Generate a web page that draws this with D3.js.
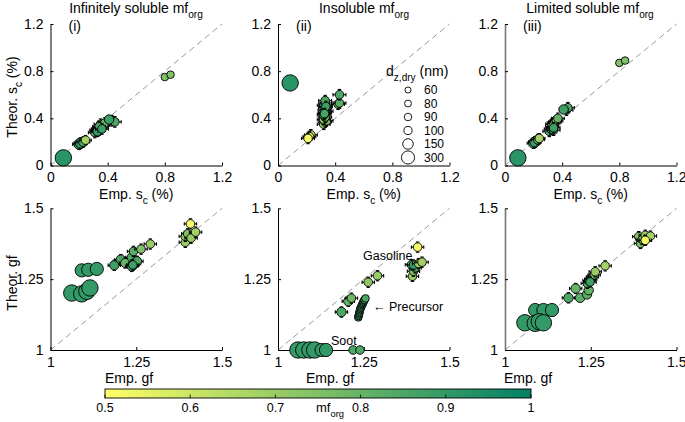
<!DOCTYPE html>
<html><head><meta charset="utf-8">
<script src="https://cdn.jsdelivr.net/npm/d3@7"></script>
<style>body{margin:0;background:#fff} text{font-family:"Liberation Sans",Arial,Helvetica,sans-serif;fill:#000}</style>
</head><body>
<svg id="chart" width="685" height="422"></svg>
<script>
// ---------- DATA ----------
// each point: [emp, theor, mf_org, d_z,dry (nm), errorbar half-width]
const titles = ["Infinitely soluble mf", "Insoluble mf", "Limited soluble mf"];
const panelTags = ["(i)", "(ii)", "(iii)"];
const scTicks = [0, 0.4, 0.8, 1.2];
const gfTicks = [1, 1.25, 1.5];
const gfTickLabels = ["1", "1.25", "1.5"];
const legendDiameters = [60, 80, 90, 100, 150, 300];
const cbTicks = [0.5, 0.6, 0.7, 0.8, 0.9, 1];

const sc_inf = [
  [0.09,0.065,0.92,300,0],
  [0.20,0.18,0.88,100,0.045],[0.21,0.19,0.90,100,0.045],[0.23,0.20,0.85,90,0.045],[0.245,0.215,0.68,80,0.04],
  [0.31,0.28,0.85,80,0.045],[0.32,0.30,0.80,80,0.045],[0.33,0.31,0.85,80,0.045],[0.34,0.30,0.88,80,0.045],
  [0.35,0.32,0.80,80,0.045],[0.36,0.33,0.85,80,0.045],[0.37,0.34,0.82,80,0.045],[0.33,0.29,0.90,90,0.045],
  [0.35,0.35,0.78,80,0.045],[0.38,0.36,0.80,80,0.045],[0.34,0.33,0.85,80,0.045],[0.36,0.31,0.88,80,0.045],
  [0.43,0.38,0.80,80,0.045],[0.45,0.37,0.85,80,0.045],[0.41,0.39,0.88,90,0.03],
  [0.80,0.75,0.75,60,0],[0.84,0.77,0.75,60,0]
];
const sc_ins = [
  [0.085,0.70,0.92,300,0],
  [0.23,0.26,0.62,80,0.045],[0.22,0.245,0.56,80,0.045],[0.21,0.23,0.52,80,0.045],
  [0.32,0.35,0.70,80,0.045],[0.33,0.37,0.68,80,0.045],[0.34,0.38,0.75,80,0.045],[0.32,0.39,0.72,80,0.045],
  [0.33,0.41,0.80,80,0.045],[0.32,0.43,0.85,80,0.045],[0.34,0.46,0.85,80,0.045],[0.33,0.45,0.88,80,0.045],
  [0.325,0.47,0.85,80,0.045],[0.33,0.49,0.88,80,0.045],[0.32,0.51,0.90,80,0.045],[0.33,0.53,0.88,80,0.045],
  [0.33,0.55,0.85,80,0.045],[0.335,0.50,0.88,80,0.045],[0.325,0.44,0.86,80,0.045],
  [0.42,0.52,0.80,80,0.045],[0.43,0.53,0.82,80,0.045],[0.43,0.60,0.85,80,0.045]
];
const sc_lim = [
  [0.09,0.065,0.92,300,0],
  [0.20,0.19,0.90,100,0.045],[0.21,0.20,0.88,100,0.045],[0.23,0.22,0.85,90,0.045],[0.24,0.23,0.68,80,0.04],
  [0.31,0.29,0.85,80,0.045],[0.32,0.31,0.88,80,0.045],[0.33,0.33,0.80,80,0.045],[0.34,0.30,0.90,80,0.045],
  [0.33,0.35,0.75,80,0.045],[0.34,0.36,0.65,80,0.045],[0.35,0.37,0.70,80,0.045],[0.36,0.38,0.72,80,0.045],
  [0.37,0.40,0.80,80,0.045],[0.34,0.32,0.88,80,0.045],
  [0.43,0.47,0.78,80,0.045],[0.44,0.49,0.85,80,0.045],[0.41,0.475,0.88,90,0.03],
  [0.80,0.87,0.75,60,0],[0.84,0.89,0.75,60,0]
];
const gf_inf = [
  [1.091,1.281,0.90,150,0],[1.11,1.283,0.90,150,0],[1.135,1.286,0.90,150,0],
  [1.062,1.201,0.90,300,0],[1.091,1.198,0.90,300,0],[1.106,1.207,0.90,300,0],[1.115,1.219,0.90,300,0],
  [1.186,1.299,0.88,90,0.018],[1.205,1.319,0.85,90,0.018],[1.218,1.307,0.80,90,0.018],[1.237,1.327,0.85,90,0.018],
  [1.242,1.348,0.82,80,0.018],[1.237,1.295,0.90,90,0.018],[1.245,1.305,0.88,90,0.018],[1.252,1.313,0.85,90,0.018],
  [1.24,1.30,0.88,80,0.018],
  [1.264,1.356,0.75,80,0.018],[1.291,1.374,0.70,80,0.018],
  [1.393,1.38,0.70,80,0.018],[1.393,1.401,0.72,80,0.018],[1.40,1.41,0.75,80,0.018],[1.41,1.395,0.70,80,0.018],
  [1.423,1.416,0.68,80,0.018],[1.408,1.445,0.52,80,0.018]
];
const gf_ins = [
  [1.058,1.0,0.90,300,0],[1.075,1.0,0.90,300,0],[1.093,1.0,0.90,300,0],[1.107,1.0,0.90,300,0],
  [1.127,1.0,0.90,150,0],[1.14,1.0,0.90,150,0],
  [1.219,1.0,0.85,80,0],[1.239,1.0,0.85,80,0],
  [1.185,1.134,0.85,90,0.018],[1.205,1.172,0.80,90,0.018],[1.214,1.183,0.78,80,0.018],
  [1.263,1.239,0.72,80,0.018],[1.29,1.262,0.70,80,0.018],
  [1.234,1.115,0.88,60,0],[1.235,1.120,0.86,60,0],[1.236,1.125,0.88,60,0],[1.237,1.130,0.86,60,0],
  [1.238,1.135,0.86,60,0],[1.239,1.140,0.88,60,0],[1.240,1.145,0.88,60,0],[1.241,1.149,0.86,60,0],
  [1.243,1.153,0.86,60,0],[1.245,1.158,0.86,60,0],[1.246,1.162,0.88,60,0],[1.248,1.166,0.86,60,0],
  [1.249,1.170,0.86,60,0],[1.251,1.174,0.85,60,0],[1.252,1.177,0.85,60,0],[1.255,1.182,0.85,60,0],
  [1.392,1.26,0.70,80,0.018],[1.395,1.278,0.75,80,0.018],[1.40,1.29,0.85,80,0.018],[1.389,1.301,0.80,80,0.018],
  [1.395,1.30,0.90,80,0.018],[1.41,1.305,0.70,80,0.018],[1.42,1.31,0.68,80,0.018],[1.407,1.363,0.52,80,0.018]
];
const gf_lim = [
  [1.088,1.141,0.90,150,0],[1.112,1.141,0.90,150,0],[1.137,1.141,0.90,150,0],
  [1.058,1.096,0.90,300,0],[1.088,1.094,0.90,300,0],[1.10,1.10,0.90,300,0],[1.112,1.096,0.90,300,0],
  [1.185,1.184,0.85,90,0.018],[1.206,1.217,0.80,90,0.018],[1.219,1.184,0.82,90,0],[1.239,1.196,0.82,90,0],[1.244,1.211,0.80,90,0],
  [1.24,1.235,0.85,80,0.018],[1.245,1.245,0.88,80,0.018],[1.25,1.25,0.85,80,0.018],[1.255,1.258,0.82,80,0.018],
  [1.26,1.265,0.80,80,0.018],[1.248,1.24,0.88,80,0.018],[1.263,1.276,0.70,80,0.018],[1.292,1.297,0.68,80,0.018],
  [1.395,1.376,0.75,80,0.018],[1.39,1.40,0.72,80,0.018],[1.40,1.39,0.80,80,0.018],[1.409,1.405,0.70,80,0.018],
  [1.424,1.402,0.68,80,0.018],[1.409,1.387,0.52,80,0.018]
];
const scPanels = [sc_inf, sc_ins, sc_lim];
const gfPanels = [gf_inf, gf_ins, gf_lim];

// ---------- LAYOUT ----------
const svg = d3.select("#chart");
const FONT = 14, TICKF = 14;
const panelX = [50.5, 278, 505];
const panelW = 171.5;
const topY = [165.5, 24], botY = [350, 208.3];

const color = v => d3.interpolateRgb("rgb(255,255,102)", "rgb(0,128,102)")((v - 0.5) / 0.5);
const rScale = d3.scaleOrdinal().domain(legendDiameters).range([3.8, 4.3, 4.7, 5.1, 6.6, 8.2]);

function richText(g, x, y, parts, opts = {}) {
  const t = g.append("text").attr("x", x).attr("y", y)
    .attr("font-size", opts.size || FONT)
    .attr("text-anchor", opts.anchor || "start");
  let shift = 0;
  parts.forEach(([s, sub]) => {
    const want = sub ? 5 : 0;
    t.append("tspan").attr("dy", want - shift)
      .attr("font-size", sub ? (opts.size || FONT) * 0.72 : null).text(s);
    shift = want;
  });
  if (opts.rotate) t.attr("transform", `rotate(${opts.rotate},${x},${y})`);
  return t;
}

function drawPanel(i, data, domain, ticks, tickLabels, yRange) {
  const x = d3.scaleLinear().domain(domain).range([panelX[i], panelX[i] + panelW]);
  const y = d3.scaleLinear().domain(domain).range(yRange);
  const g = svg.append("g");
  const axisCol = i === 2 ? "#777" : "#000";
  g.append("line").attr("x1", x(domain[0])).attr("y1", y(domain[0]))
    .attr("x2", x(domain[1])).attr("y2", y(domain[1]))
    .attr("stroke", "#999").attr("stroke-width", 1).attr("stroke-dasharray", "6,4");
  const fmt = (d, k) => tickLabels ? tickLabels[k] : d3.format("")(d);
  const ax = g.append("g").attr("transform", `translate(0,${yRange[0]})`)
    .call(d3.axisBottom(x).tickValues(ticks).tickSizeInner(-3).tickSizeOuter(0).tickPadding(7).tickFormat(fmt));
  const ay = g.append("g").attr("transform", `translate(${panelX[i]},0)`)
    .call(d3.axisLeft(y).tickValues(ticks).tickSizeInner(-3).tickSizeOuter(0).tickPadding(7).tickFormat(fmt));
  [ax, ay].forEach(a => {
    a.selectAll("text").attr("font-size", TICKF).attr("font-family", '"Liberation Sans",Arial,sans-serif').attr("fill", "#000");
    a.selectAll(".tick line").attr("stroke", "#000");
  });
  if (i === 2) ax.selectAll(".tick text").filter((d, k, n) => k === n.length - 1).attr("text-anchor", "end").attr("dx", "9.5");
  ax.select(".domain").attr("stroke", "#000");
  ay.select(".domain").attr("stroke", axisCol).attr("stroke-width", i === 2 ? 1.6 : 1);
  const pts = g.append("g");
  data.forEach(d => {
    const [ex, ty, mf, dia, e] = d;
    const cx = x(ex), cy = y(ty);
    if (e > 0) {
      const hx = Math.abs(x(ex + e) - cx), hy = Math.abs(y(ty + e) - cy), cap = 1.7;
      const eb = pts.append("g").attr("stroke", "#000").attr("stroke-width", 1.1);
      eb.append("line").attr("x1", cx - hx).attr("x2", cx + hx).attr("y1", cy).attr("y2", cy);
      eb.append("line").attr("x1", cx).attr("x2", cx).attr("y1", cy - hy).attr("y2", cy + hy);
      [[cx - hx, cy], [cx + hx, cy]].forEach(([a, b]) => eb.append("line").attr("x1", a).attr("x2", a).attr("y1", b - cap).attr("y2", b + cap));
      [[cx, cy - hy], [cx, cy + hy]].forEach(([a, b]) => eb.append("line").attr("y1", b).attr("y2", b).attr("x1", a - cap).attr("x2", a + cap));
    }
    pts.append("circle").attr("cx", cx).attr("cy", cy).attr("r", rScale(dia))
      .attr("fill", color(mf)).attr("stroke", "#000").attr("stroke-width", 0.9);
  });
  return { x, y, g };
}

scPanels.forEach((d, i) => drawPanel(i, d, [0, 1.2], scTicks, null, topY));
gfPanels.forEach((d, i) => drawPanel(i, d, [1, 1.5], gfTicks, gfTickLabels, botY));

const titleCx = [136, 364, 590];
titles.forEach((t, i) => {
  richText(svg, titleCx[i], 13, [[t, false], ["org", true]], { anchor: "middle" });
  svg.append("text").attr("x", panelX[i] + 18).attr("y", 31).attr("font-size", FONT).text(panelTags[i]);
  richText(svg, panelX[i] + panelW / 2, 199, [["Emp. s", false], ["c", true], [" (%)", false]], { anchor: "middle" });
});
const empGfX = [129, 330, 528];
empGfX.forEach(cx => svg.append("text").attr("x", cx).attr("y", 383).attr("font-size", FONT).attr("text-anchor", "middle").text("Emp. gf"));
richText(svg, 17, 97, [["Theor. s", false], ["c", true], [" (%)", false]], { anchor: "middle", rotate: -90 });
svg.append("text").attr("x", 17).attr("y", 283).attr("font-size", FONT).attr("text-anchor", "middle")
  .attr("transform", "rotate(-90,17,283)").text("Theor. gf");

svg.append("text").attr("x", 363).attr("y", 260).attr("font-size", 12.5).text("Gasoline");
svg.append("text").attr("x", 373).attr("y", 311).attr("font-size", 12.5).text("\u2190 Precursor");
svg.append("text").attr("x", 331).attr("y", 345).attr("font-size", 12.5).text("Soot");

const lg = svg.append("g");
richText(lg, 386, 76, [["d", false], ["z,dry", true], [" (nm)", false]], { size: FONT });
legendDiameters.forEach((d, k) => {
  const cy = 90 + k * 13.5;
  lg.append("circle").attr("cx", 408).attr("cy", cy).attr("r", rScale(d) * 0.8)
    .attr("fill", "#fff").attr("stroke", "#000").attr("stroke-width", 0.9);
  lg.append("text").attr("x", 424).attr("y", cy + 4.3).attr("font-size", 12).text(d);
});

const cbx = d3.scaleLinear().domain([0.5, 1]).range([105, 531]);
const grad = svg.append("defs").append("linearGradient").attr("id", "cbg");
d3.range(0, 1.0001, 0.1).forEach(t => grad.append("stop").attr("offset", t).attr("stop-color", color(0.5 + t * 0.5)));
svg.append("rect").attr("x", cbx(0.5)).attr("y", 389).attr("width", cbx(1) - cbx(0.5)).attr("height", 9)
  .attr("fill", "url(#cbg)").attr("stroke", "#000").attr("stroke-width", 0.9);
cbTicks.forEach(v => {
  svg.append("line").attr("x1", cbx(v)).attr("x2", cbx(v)).attr("y1", 398).attr("y2", 394.5).attr("stroke", "#000").attr("stroke-width", 0.8);
  svg.append("text").attr("x", cbx(v)).attr("y", 412).attr("font-size", 12.5).attr("text-anchor", "middle").text(d3.format("")(v));
});
richText(svg, 316, 412, [["mf", false], ["org", true]], { size: 13 });
</script>
</body></html>
